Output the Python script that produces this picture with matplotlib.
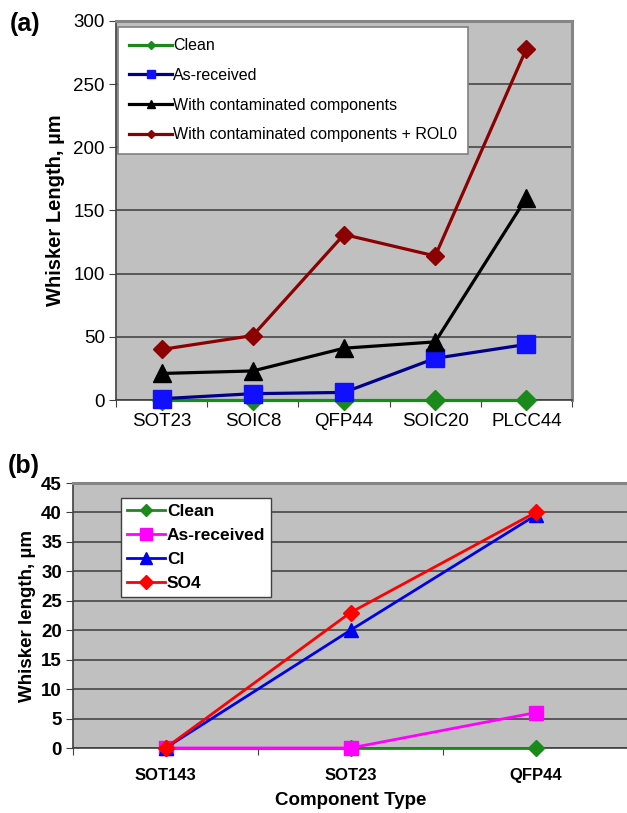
import matplotlib.pyplot as plt
import numpy as np

plt.rcParams['font.family'] = ['Liberation Sans', 'DejaVu Sans']

# panel (a)
cats_a = ['SOT23', 'SOIC8', 'QFP44', 'SOIC20', 'PLCC44']
clean_a = [0, 0, 0, 0, 0]
asrec_a = [1, 5, 6, 33, 44]
contam_a = [21, 23, 41, 46, 160]
rol0_a = [40, 51, 131, 114, 278]

# panel (b)
cats_b = ['SOT143', 'SOT23', 'QFP44']
clean_b = [0, 0, 0]
asrec_b = [0, 0, 6]
cl_b = [0, 20, 39.5]
so4_b = [0, 23, 40]

W, H = 627, 813
fig = plt.figure(figsize=(W / 100, H / 100), dpi=100)


def px_axes(x0, y0, x1, y1):
    return fig.add_axes([x0 / W, 1 - y1 / H, (x1 - x0) / W, (y1 - y0) / H])


def excel_style(ax, n, ymax, step):
    ax.set_facecolor('#c0c0c0')
    ax.set_xlim(-0.5, n - 0.5)
    ax.set_ylim(0, ymax)
    ax.set_yticks(np.arange(0, ymax + 1, step))
    ax.yaxis.grid(True, color='#3c3c3c', lw=1.1)
    ax.set_axisbelow(True)
    ax.set_xticks(np.arange(-0.5, n, 1.0))
    ax.set_xticklabels([])
    ax.tick_params(axis='x', length=5, color='#404040')
    ax.tick_params(axis='y', length=5, color='#404040', pad=3)
    for s in ['top', 'right']:
        ax.spines[s].set_color('#858585')
        ax.spines[s].set_linewidth(2.2)
    for s in ['left', 'bottom']:
        ax.spines[s].set_color('#404040')
        ax.spines[s].set_linewidth(1.2)


# ---- (a)
ax1 = px_axes(116, 21, 572, 400)
excel_style(ax1, len(cats_a), 300, 50)
x = np.arange(len(cats_a))
ax1.plot(x, clean_a, color='#1a8a1a', lw=2.3, marker='D', ms=10, label='Clean', zorder=3, clip_on=False)
ax1.plot(x, asrec_a, color='#00008b', lw=2.3, marker='s', ms=12.5, mfc='#1010ff', mec='#1010ff',
         label='As-received', zorder=4, clip_on=False)
ax1.plot(x, contam_a, color='black', lw=2.3, marker='^', ms=13, label='With contaminated components', zorder=5,
         clip_on=False)
ax1.plot(x, rol0_a, color='#8b0000', lw=2.3, marker='D', ms=9.5, label='With contaminated components + ROL0',
         zorder=6, clip_on=False)
for i, c in enumerate(cats_a):
    ax1.text(i, -0.035, c, transform=ax1.get_xaxis_transform(), ha='center', va='top', fontsize=13.5)
ax1.tick_params(axis='y', labelsize=13.5)
ax1.set_ylabel('Whisker Length, µm', fontsize=14.5, fontweight='bold', labelpad=6)
leg = ax1.legend(loc='upper left', bbox_to_anchor=(0.004, 0.984), fontsize=11.5, frameon=True, fancybox=False,
                 edgecolor='#808080', framealpha=1, labelspacing=0.92, handlelength=2.7, handletextpad=0.05,
                 borderpad=0.7, markerscale=0.45, borderaxespad=0)
leg.get_frame().set_linewidth(1.2)
leg.set_zorder(10)
fig.text(10 / W, 1 - 24 / H, '(a)', fontsize=18, fontweight='bold', va='center')

# ---- (b)
ax2 = px_axes(73, 483, 628, 748)
excel_style(ax2, len(cats_b), 45, 5)
x = np.arange(len(cats_b))
ax2.plot(x, clean_b, color='#1a8a1a', lw=2.0, marker='D', ms=8, label='Clean', zorder=3, clip_on=False)
ax2.plot(x, asrec_b, color='#ff00ff', lw=2.0, marker='s', ms=10, label='As-received', zorder=4, clip_on=False)
ax2.plot(x, cl_b, color='#0000ee', lw=2.0, marker='^', ms=10, label='Cl', zorder=5, clip_on=False)
ax2.plot(x, so4_b, color='#ff0000', lw=2.0, marker='D', ms=8.5, label='SO4', zorder=6, clip_on=False)
for i, c in enumerate(cats_b):
    ax2.text(i, -0.075, c, transform=ax2.get_xaxis_transform(), ha='center', va='top', fontsize=12,
             fontweight='bold')
ax2.tick_params(axis='y', labelsize=13.5)
for t in ax2.get_yticklabels():
    t.set_fontweight('bold')
ax2.set_ylabel('Whisker length, µm', fontsize=13.5, fontweight='bold', labelpad=4)
ax2.text(1, -0.165, 'Component Type', transform=ax2.get_xaxis_transform(), fontsize=13.5, fontweight='bold',
         ha='center', va='top')
leg2 = ax2.legend(loc='upper left', bbox_to_anchor=(0.0865, 0.943), frameon=True, fancybox=False,
                  edgecolor='#404040', framealpha=1, labelspacing=0.5, handlelength=2.2, handletextpad=0.1,
                  borderpad=0.35, markerscale=0.8, borderaxespad=0,
                  prop={'weight': 'bold', 'size': 12.5})
leg2.get_frame().set_linewidth(1.0)
leg2.set_zorder(10)
fig.text(8 / W, 1 - 466 / H, '(b)', fontsize=18, fontweight='bold', va='center')

fig.savefig('out.png', dpi=100, facecolor='white')
